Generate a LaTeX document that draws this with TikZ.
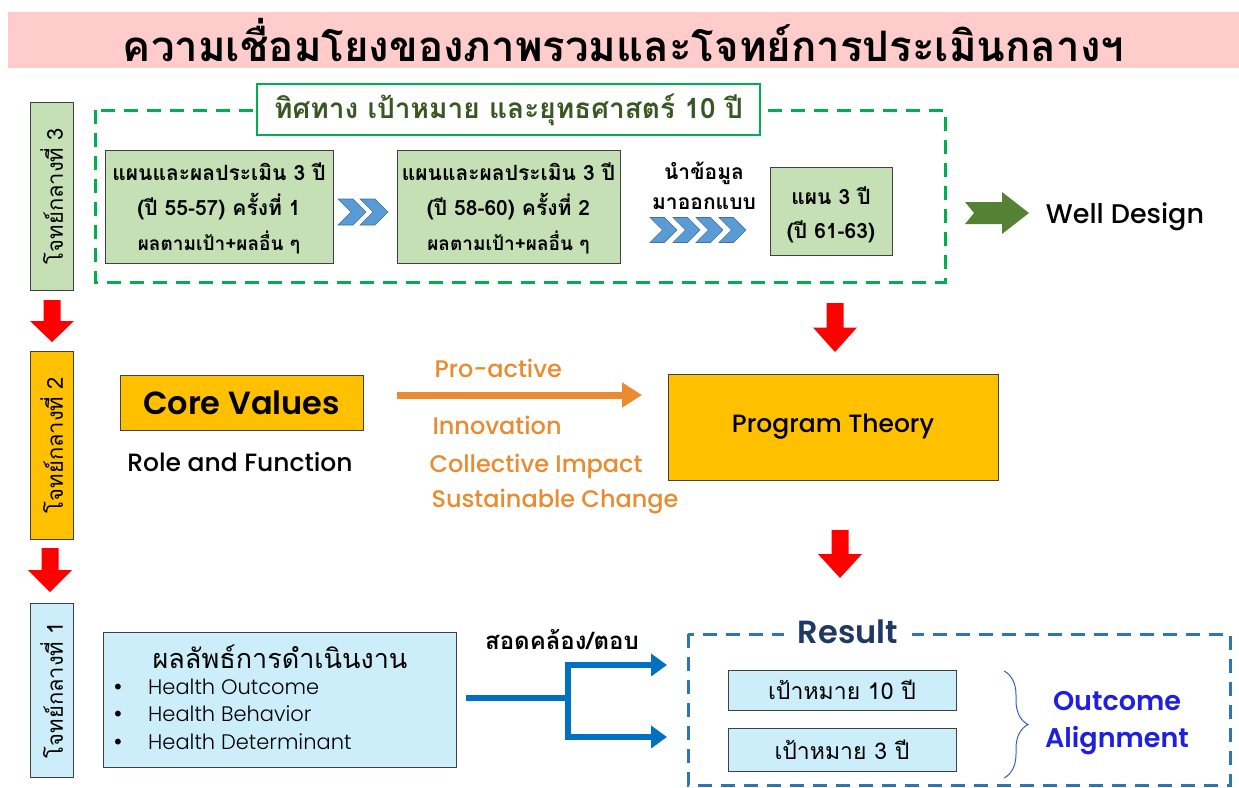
\documentclass[tikz,border=0pt]{standalone}
\usepackage{fontspec}
\setmainfont{Poppins}
\IfFontExistsTF{Poppins Medium}{\newfontfamily\pmed{Poppins Medium}}{\newfontfamily\pmed{Poppins}}
\IfFontExistsTF{Poppins SemiBold}{\newfontfamily\psemi{Poppins SemiBold}}{\newfontfamily\psemi{Poppins}[UprightFont=*-Bold]}
\IfFontExistsTF{Poppins Light}{\newfontfamily\plight{Poppins Light}}{\newfontfamily\plight{Poppins}}
\newfontfamily\thai[Script=Thai]{Loma}
\newfontfamily\symf{DejaVu Sans}
\usetikzlibrary{arrows.meta,decorations.pathreplacing}

\definecolor{titlepink}{HTML}{FFCCCC}
\definecolor{planfill}{HTML}{C5E0B4}
\definecolor{planline}{HTML}{00B050}
\definecolor{headtext}{HTML}{385723}
\definecolor{chevblue}{HTML}{5B9BD5}
\definecolor{chevedge}{HTML}{41719C}
\definecolor{leafgreen}{HTML}{548235}
\definecolor{arrowred}{HTML}{FF0000}
\definecolor{gold}{HTML}{FFC000}
\definecolor{coreorange}{HTML}{E98B2E}
\definecolor{skyfill}{HTML}{CCEEFA}
\definecolor{linkblue}{HTML}{0070C0}
\definecolor{resultdash}{HTML}{2E75B6}
\definecolor{navy}{HTML}{1F3864}
\definecolor{alignblue}{HTML}{1F1FE0}
\definecolor{bracecol}{HTML}{3A5BC7}
\definecolor{edgegray}{HTML}{404040}

% chevron: left x, centre y, width, height
\newcommand\chevron[4]{%
  \filldraw[fill=chevblue, draw=chevedge, line width=0.6pt]
    (#1,{#2-#4/2}) -- ({#1+#3-#4/2},{#2-#4/2}) -- ({#1+#3},#2)
    -- ({#1+#3-#4/2},{#2+#4/2}) -- (#1,{#2+#4/2}) -- ({#1+#4/2},#2) -- cycle;}

% downward block arrow: centre x, top, tip
\newcommand\redarrow[3]{%
  \fill[arrowred] ({#1-8.5},#2) -- ({#1+8.5},#2) -- ({#1+8.5},{(#2+#3)/2})
    -- ({#1+22},{(#2+#3)/2}) -- (#1,#3) -- ({#1-22},{(#2+#3)/2})
    -- ({#1-8.5},{(#2+#3)/2}) -- cycle;}

% bullet mark for the outcome list
\newcommand\itemmark{\makebox[36pt][l]{\symf\fontsize{20}{20}\selectfont •}}

\begin{document}
\begin{tikzpicture}[x=1pt,y=-1pt,
  box/.style={draw=edgegray, line width=1pt, inner sep=0pt, align=center},
  quest/.style={box, rotate=90, minimum width=#1, minimum height=43pt,
    font=\thai\fontsize{22}{26}\selectfont},
  plan/.style={box, fill=planfill, font=\thai\bfseries\fontsize{21}{35}\selectfont},
  small/.style={font=\thai\bfseries\fontsize{19}{22}\selectfont},
  orangeword/.style={anchor=west, text=coreorange, font=\pmed\fontsize{24}{28}\selectfont},
  link/.style={linkblue, line width=6pt},
  linkhead/.style={-{Triangle[length=16pt,width=22pt]}}
]
\useasboundingbox (0,0) rectangle (1239,787);

% title band
\node[fill=titlepink, minimum width=1231pt, minimum height=56pt, inner sep=0pt]
  (title) at (623.5,40)
  {\thai\bfseries\fontsize{42}{46}\selectfont ความเชื่อมโยงของภาพรวมและโจทย์การประเมินกลางฯ};

% level labels on the left
\node[quest=188pt, fill=planfill] (q3) at (51.5,196) {โจทย์กลางที่ 3};
\node[quest=188pt, fill=gold] (q2) at (51.5,445) {โจทย์กลางที่ 2};
\node[quest=174pt, fill=skyfill] (q1) at (51.5,690) {โจทย์กลางที่ 1};

\redarrow{52}{300}{342}
\redarrow{50}{548}{592}

% ---- level 3: ten-year direction ----
\draw[planline, line width=3pt, dash pattern=on 14pt off 9pt] (95,110) rectangle (945,282);
\node[draw=planline, line width=2pt, fill=white, minimum width=503pt, minimum height=51pt,
  inner sep=0pt, text=headtext, font=\thai\bfseries\fontsize{28}{30}\selectfont]
  (aim) at (508.5,109.5) {ทิศทาง เป้าหมาย และยุทธศาสตร์ 10 ปี};

\node[plan, minimum width=228pt, minimum height=113pt] (p1) at (219,206.5) {};
\node[plan, draw=none, fill=none] (p1t) at (219,191) {แผนและผลประเมิน 3 ปี\\(ปี 55-57) ครั้งที่ 1};
\node[small] (p1s) at (219,242) {ผลตามเป้า+ผลอื่น ๆ};

\node[plan, minimum width=223pt, minimum height=113pt] (p2) at (508.5,206.5) {};
\node[plan, draw=none, fill=none] (p2t) at (508.5,191) {แผนและผลประเมิน 3 ปี\\(ปี 58-60) ครั้งที่ 2};
\node[small] (p2s) at (508.5,242) {ผลตามเป้า+ผลอื่น ๆ};

\node[plan, minimum width=122pt, minimum height=88pt] (p3) at (831,211) {};
\node[plan, draw=none, fill=none] (p3t) at (831,196) {แผน 3 ปี};
\node[small, font=\thai\bfseries\fontsize{21}{24}\selectfont] (p3s) at (831,232) {(ปี 61-63)};

\node[font=\thai\bfseries\fontsize{21}{30}\selectfont, align=center] (bring) at (704,186)
  {นำข้อมูล\\มาออกแบบ};

\chevron{338}{212}{28}{26}
\chevron{360}{212}{28}{26}
\chevron{650}{230}{27}{25}
\chevron{673}{230}{27}{25}
\chevron{696}{230}{27}{25}
\chevron{719}{230}{27}{25}

\fill[leafgreen] (965,202) -- (1002,202) -- (1002,192) -- (1029,213) -- (1002,234)
  -- (1002,224) -- (965,224) -- (974,213) -- cycle;
\node[font=\pmed\fontsize{27}{30}\selectfont] (well) at (1125,217) {Well Design};

\redarrow{835}{303}{352}

% ---- level 2: core values ----
\node[box, fill=gold, minimum width=243pt, minimum height=55pt,
  font=\psemi\fontsize{32}{34}\selectfont] (core) at (241.5,402.5) {Core Values};
\node[font=\pmed\fontsize{25}{28}\selectfont] (role) at (240,462) {Role and Function};

\coordinate (oa) at (397,395);
\coordinate (ob) at (642,395);
\draw[coreorange, line width=7pt, -{Triangle[length=20pt,width=24pt]}] (oa) -- (ob);

\node[orangeword] (w1) at (431,368) {Pro-active};
\node[orangeword] (w2) at (429,425) {Innovation};
\node[orangeword] (w3) at (426,466) {Collective Impact};
\node[orangeword] (w4) at (428,502) {Sustainable Change};

\node[box, fill=gold, minimum width=330pt, minimum height=106pt,
  font=\pmed\fontsize{25}{28}\selectfont] (theory) at (833,427) {Program Theory};

\redarrow{840}{530}{578}

% ---- level 1: results ----
\node[box, fill=skyfill, minimum width=353pt, minimum height=135pt] (perf) at (279.5,699.5) {};
\node[font=\thai\fontsize{27}{28}\selectfont] (perft) at (280,657) {ผลลัพธ์การดำเนินงาน};
\node[anchor=west, align=left, inner sep=0pt, font=\plight\fontsize{21}{27.5}\selectfont]
  (perfl) at (112,714)
  {\itemmark Health Outcome\\ \itemmark Health Behavior\\ \itemmark Health Determinant};

\node[font=\thai\bfseries\fontsize{24}{26}\selectfont] (agree) at (562,640) {สอดคล้อง/ตอบ};

\coordinate (ls) at (466,698);
\coordinate (lj) at (568,698);
\coordinate (le1) at (667,665);
\coordinate (le2) at (667,737);
\draw[link] (ls) -- (lj);
\draw[link, linkhead] (lj) |- (le1);
\draw[link, linkhead] (lj) |- (le2);

\draw[resultdash, line width=3pt, dash pattern=on 14pt off 9pt] (688,634) rectangle (1230,785);
\node[fill=white, inner xsep=14pt, inner ysep=2pt, text=navy,
  font=\psemi\fontsize{32}{34}\selectfont] (result) at (848,632) {Result};

\node[box, fill=skyfill, minimum width=228pt, minimum height=40pt,
  font=\thai\fontsize{23}{24}\selectfont] (t10) at (842,690) {เป้าหมาย 10 ปี};
\node[box, fill=skyfill, minimum width=228pt, minimum height=43pt,
  font=\thai\fontsize{23}{24}\selectfont] (t3) at (842,749.5) {เป้าหมาย 3 ปี};

\coordinate (bt) at (1004,671);
\coordinate (bb) at (1004,778);
\draw[bracecol, line width=1pt, decorate, decoration={brace, amplitude=24pt}] (bt) -- (bb);

\node[font=\psemi\fontsize{27}{37}\selectfont, text=alignblue, align=center]
  (align) at (1117,723) {Outcome\\Alignment};
\end{tikzpicture}
\end{document}
